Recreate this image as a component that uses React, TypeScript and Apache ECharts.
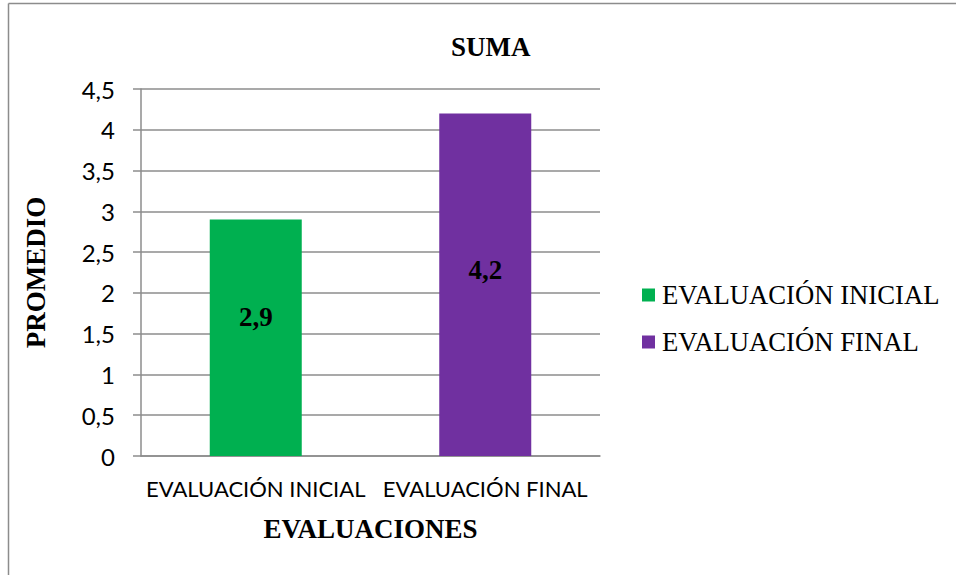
import React, { useEffect, useRef } from "react";
import * as echarts from "echarts";

const categories = ["EVALUACIÓN INICIAL", "EVALUACIÓN FINAL"];
const seriesNames = ["EVALUACIÓN INICIAL", "EVALUACIÓN FINAL"];
const inicialValues = [2.9, null];
const finalValues = [null, 4.2];
const colors = ["#00B050", "#7030A0"];

const SERIF = "Liberation Serif";
const SANS = "Lato";
const GRAY = "#8c8c8c";

export default function App() {
  const ref = useRef<HTMLDivElement>(null);
  useEffect(() => {
    if (!ref.current) return;
    const chart = echarts.init(ref.current, null, { renderer: "svg" });
    const labelBase = {
      show: true,
      position: "inside",
      fontFamily: SERIF,
      fontWeight: "bold",
      fontSize: 27,
      color: "#000",
      formatter: (p: any) => String(p.value).replace(".", ","),
    };
    chart.setOption({
      animation: false,
      backgroundColor: "#fff",
      title: {
        text: "SUMA",
        left: 446,
        top: 28,
        textStyle: { fontFamily: SERIF, fontWeight: "bold", fontSize: 27, color: "#000" },
      },
      legend: {
        orient: "vertical",
        left: 642,
        top: 280,
        padding: 0,
        itemWidth: 13,
        itemHeight: 13,
        itemGap: 17,
        icon: "rect",
        data: seriesNames,
        textStyle: { fontFamily: SERIF, fontSize: 26.7, color: "#000", lineHeight: 30, padding: [0, 0, 0, 2] },
      },
      grid: { left: 141, right: 356, top: 89, bottom: 119, containLabel: false },
      xAxis: {
        type: "category",
        data: categories,
        axisTick: { show: false },
        axisLine: { show: true, lineStyle: { color: GRAY, width: 1.5 } },
        axisLabel: { fontFamily: SANS, fontSize: 22, color: "#000", margin: 21, interval: 0 },
        name: "EVALUACIONES",
        nameLocation: "middle",
        nameGap: 59,
        nameTextStyle: { fontFamily: SERIF, fontWeight: "bold", fontSize: 27, color: "#000" },
      },
      yAxis: {
        type: "value",
        min: 0,
        max: 4.5,
        interval: 0.5,
        axisLine: { show: true, lineStyle: { color: GRAY, width: 1.5 } },
        axisTick: { show: true, length: 8, lineStyle: { color: GRAY, width: 1.5 } },
        splitLine: { show: true, lineStyle: { color: GRAY, width: 1.5 } },
        axisLabel: {
          fontFamily: SANS,
          fontSize: 24,
          color: "#000",
          margin: 26,
          formatter: (v: number) => String(v).replace(".", ","),
        },
        name: "PROMEDIO",
        nameLocation: "middle",
        nameRotate: 90,
        nameGap: 92,
        nameTextStyle: { fontFamily: SERIF, fontWeight: "bold", fontSize: 27, color: "#000" },
      },
      series: [
        {
          name: seriesNames[0],
          type: "bar",
          data: inicialValues,
          barWidth: 92,
          barGap: "-100%",
          itemStyle: { color: colors[0] },
          label: { ...labelBase, offset: [0, -21] },
        },
        {
          name: seriesNames[1],
          type: "bar",
          data: finalValues,
          barWidth: 92,
          barGap: "-100%",
          itemStyle: { color: colors[1] },
          label: { ...labelBase, offset: [0, -15] },
        },
      ],
      graphic: [
        { type: "line", shape: { x1: 8.5, y1: 3.5, x2: 956, y2: 3.5 }, style: { stroke: GRAY, lineWidth: 1.5 } },
        { type: "line", shape: { x1: 8.5, y1: 3.5, x2: 8.5, y2: 575 }, style: { stroke: GRAY, lineWidth: 1.5 } },
      ],
    });
    return () => chart.dispose();
  }, []);
  return (
    <div
      ref={ref}
      style={{ position: "fixed", left: 0, top: 0, width: 956, height: 575 }}
    />
  );
}
